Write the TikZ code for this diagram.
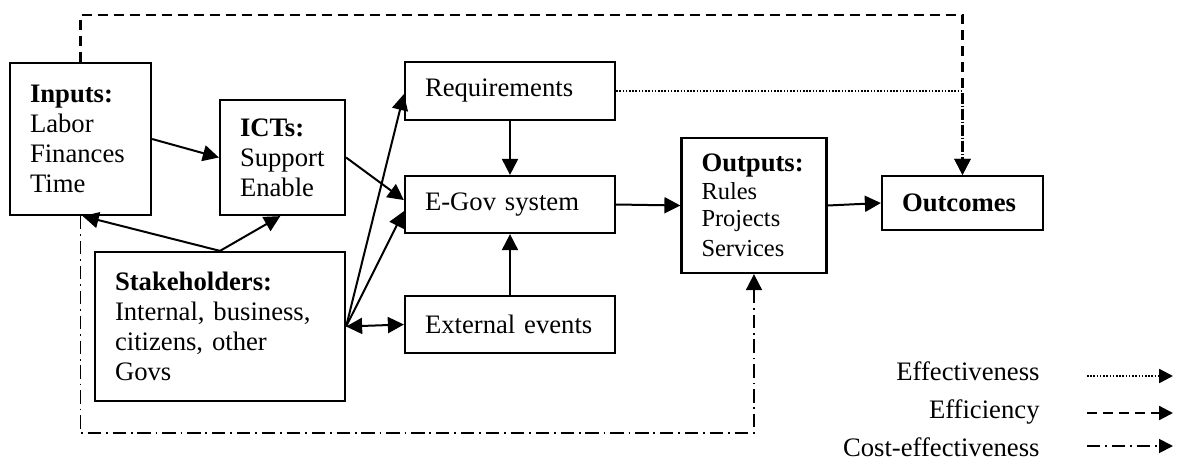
\documentclass[tikz,border=0pt]{standalone}
\usepackage{fontspec}
\setmainfont{Liberation Serif}
\usetikzlibrary{arrows.meta}
\begin{document}
\begin{tikzpicture}[x=0.45pt,y=-0.45pt,
  box/.style={draw, line width=1pt, inner xsep=9pt, inner ysep=0pt, align=left,
    font=\fontsize{12}{13.5}\selectfont},
  tip/.style={-{Triangle[length=7.2pt,width=7.2pt]}},
  arr/.style={line width=0.9pt, tip},
  effect/.style={line width=1.1pt, dash pattern=on 0.7pt off 0.75pt, tip},
  effic/.style={line width=1pt, dash pattern=on 4.5pt off 2.7pt, tip},
  costeff/.style={line width=0.8pt, dash pattern=on 6pt off 2.2pt on 0.8pt off 2.2pt, tip},
  legtext/.style={anchor=base east, inner sep=0pt, font=\fontsize{12}{13.5}\selectfont},
  legtip/.style={-{Triangle[length=6.2pt,width=6.2pt]}}
]
\useasboundingbox (0,0) rectangle (1177,459);

% boxes
\node[box, minimum width=63.45pt, minimum height=68.4pt, text width=45.45pt] (inputs) at (80.5,139)
  {\textbf{Inputs:}\\Labor\\Finances\\Time};
\node[box, minimum width=56.25pt, minimum height=51.75pt, text width=38.25pt] (icts) at (282.5,157.5)
  {\textbf{ICTs:}\\Support\\Enable};
\node[box, minimum width=94.5pt, minimum height=26.1pt, text width=76.5pt] (req) at (510,91)
  {Requirements};
\node[box, minimum width=94.5pt, minimum height=25.65pt, text width=76.5pt] (egov) at (510,204.5)
  {E-Gov system};
\node[box, minimum width=94.5pt, minimum height=25.65pt, text width=76.5pt] (ext) at (510,324.5)
  {External events};
\node[box, minimum width=112.5pt, minimum height=67.05pt, text width=94.5pt] (stake) at (220,326.5)
  {\textbf{Stakeholders:}\\Internal, business,\\citizens, other\\Govs};
\node[box, minimum width=65.25pt, minimum height=60.75pt, text width=47.25pt] (outputs) at (754,205.5)
  {\textbf{Outputs:}\\ \fontsize{11}{12.3}\selectfont Rules\\Projects\\Services};
\node[box, minimum width=72.45pt, minimum height=24.3pt, text width=54.45pt] (outcomes) at (962.5,203)
  {\textbf{Outcomes}};

% solid connectors
\draw[arr] (inputs.east) -- (icts.west);
\draw[arr] (icts.east) -- ([yshift=2pt]egov.west);
\draw[arr] (stake.north) -- ([xshift=1pt]inputs.south);
\draw[arr] (stake.north) -- ([xshift=-1pt]icts.south);
\draw[arr] (stake.east) -- ([yshift=-1.4pt]req.west);
\draw[arr] (stake.east) -- ([yshift=-3pt]egov.west);
\draw[line width=0.9pt, {Triangle[length=7.2pt,width=7.2pt]}-{Triangle[length=7.2pt,width=7.2pt]}] (stake.east) -- (ext.west);
\draw[arr] (req.south) -- (egov.north);
\draw[arr] (ext.north) -- (egov.south);
\draw[arr] (egov.east) -- (outputs.west);
\draw[arr] (outputs.east) -- (outcomes.west);

% measure lines
\coordinate (ctop) at (0,15);
\coordinate (cbot) at (0,433);
\draw[effic] (inputs.north) -- (inputs.north |- ctop) -| (outcomes.north);
\draw[effect] (req.east) -| (outcomes.north);
\draw[costeff] (inputs.south) -- (inputs.south |- cbot) -| (outputs.south);

% legend
\node[legtext] (leg1) at (1040,380) {Effectiveness};
\node[legtext] (leg2) at (1040,418) {Efficiency};
\node[legtext] (leg3) at (1040,456) {Cost-effectiveness};
\coordinate (l1s) at (1087,376); \coordinate (l1e) at (1173,376);
\coordinate (l2s) at (1087,413); \coordinate (l2e) at (1173,413);
\coordinate (l3s) at (1087,446); \coordinate (l3e) at (1173,446);
\draw[effect, legtip] (l1s) -- (l1e);
\draw[effic, legtip] (l2s) -- (l2e);
\draw[costeff, legtip] (l3s) -- (l3e);
\end{tikzpicture}
\end{document}
